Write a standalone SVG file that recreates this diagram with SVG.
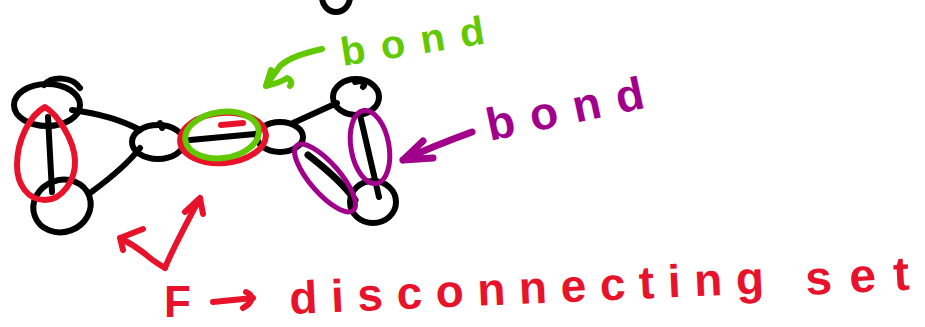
<svg xmlns="http://www.w3.org/2000/svg" width="925" height="327" viewBox="0 0 925 327">
<style>
.node{fill:none;stroke:#000;stroke-width:6;stroke-linecap:round;stroke-linejoin:round}
.edge{fill:none;stroke:#000;stroke-width:6;stroke-linecap:round}
.red{fill:none;stroke:#E8132B;stroke-width:6;stroke-linecap:round;stroke-linejoin:round}
.grn{fill:none;stroke:#62C800;stroke-width:6;stroke-linecap:round;stroke-linejoin:round}
.pur{fill:none;stroke:#A1008A;stroke-width:5;stroke-linecap:round;stroke-linejoin:round}
.t{font-family:"Liberation Sans",Arial,sans-serif;font-weight:bold}
</style>
<rect width="925" height="327" fill="#fff"/>
<g id="edges">
  <path class="edge" d="M48,117 L52,192"/>
  <path class="edge" d="M72,110 C95,113 118,118 140,130"/>
  <path class="edge" d="M90,193 C108,180 126,166 140,148"/>
  <path class="edge" d="M190,140 L255,134"/>
  <path class="edge" d="M293,123 L337,103"/>
  <path class="edge" d="M308,155 C325,168 342,182 355,200" style="stroke-width:7"/>
  <path class="edge" d="M360,115 L379,197"/>
</g>
<g id="n-top"><ellipse class="node" cx="336" cy="-3" rx="14" ry="15"/></g>
<g id="n-a"><ellipse class="node" cx="47" cy="105" rx="33" ry="21"/><path class="node" d="M44,85 C52,76 72,76 80,88"/></g>
<g id="n-b"><ellipse class="node" cx="62" cy="206" rx="29" ry="26" transform="rotate(-20 62 206)"/></g>
<g id="n-c"><ellipse class="node" cx="158" cy="142" rx="26" ry="17"/><path class="node" d="M160,123 L162,128"/></g>
<g id="n-e"><ellipse class="node" cx="280" cy="137" rx="23" ry="15"/></g>
<g id="n-f"><ellipse class="node" cx="356" cy="97" rx="23" ry="18"/><path class="node" d="M355,82 C362,80 367,83 363,87"/></g>
<g id="n-g"><ellipse class="node" cx="373" cy="202" rx="23" ry="21"/></g>
<g id="red-marks">
  <path class="red" d="M45,107 C30,115 17,140 17,165 C17,185 28,200 45,200 C62,200 76,180 75,160 C74,140 58,115 45,107 Z"/>
  <ellipse class="red" cx="223" cy="138" rx="43" ry="25" transform="rotate(-5 223 138)"/>
  <path class="red" d="M221,125 L243,123"/>
  <path class="red" d="M120,238 C132,244 143,252 150,258 C155,262 160,265 165,268 M120,238 L143,229 M120,238 L123,250"/>
  <path class="red" d="M165,268 C172,250 185,226 200,198 M200,198 L185,212 M200,198 L203,214"/>
  <path class="red" d="M213,302 L253,298 M246,292 C255,296 252,303 243,308"/>
</g>
<g id="green-marks">
  <ellipse class="grn" cx="222" cy="135" rx="37" ry="23" transform="rotate(-8 222 135)"/>
  <path class="grn" d="M322,49 C305,53 290,57 280,66 L267,84 M266,86 L271,70 M266,86 C274,84 282,82 287,78 C292,80 292,84 290,86"/>
</g>
<g id="purple-marks">
  <ellipse class="pur" cx="370" cy="147" rx="19" ry="37" transform="rotate(-10 370 147)"/>
  <ellipse class="pur" cx="325" cy="178" rx="43" ry="15" transform="rotate(49 325 178)"/>
  <path class="pur" d="M472,132 C450,140 425,150 403,160 M403,160 L423,141 M403,160 L433,158" style="stroke-width:7"/>
</g>
<g id="labels">
  <text class="t" x="343" y="66" font-size="40" fill="#62C800" textLength="145" lengthAdjust="spacing" transform="rotate(-9 343 66)">bond</text>
  <text class="t" x="490" y="141" font-size="46" fill="#A1008A" textLength="160" lengthAdjust="spacing" transform="rotate(-12 490 141)">bond</text>
  <text class="t" x="164" y="317" font-size="44" fill="#E8132B">F</text>
  <text class="t" x="290" y="314" font-size="46" fill="#E8132B" textLength="475" lengthAdjust="spacing" transform="rotate(-2.5 290 314)">disconnecting</text>
  <text class="t" x="806" y="295" font-size="48" fill="#E8132B" textLength="104" lengthAdjust="spacing" transform="rotate(-3 806 295)">set</text>
</g>
</svg>
